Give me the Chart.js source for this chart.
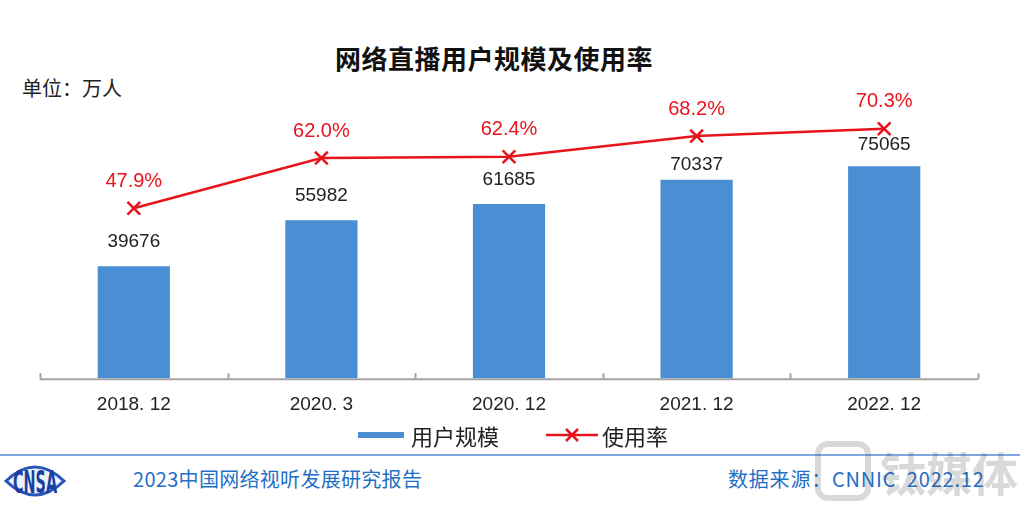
<!DOCTYPE html>
<html>
<head>
<meta charset="utf-8">
<script src="https://cdn.jsdelivr.net/npm/chart.js"></script>
<style>
  body { margin: 0; background: #fff; }
  #wrap { position: relative; width: 1034px; height: 512px; overflow: hidden; font-family: "Noto Sans CJK SC", sans-serif; }
  #box { position: absolute; left: 0; top: 0; width: 1034px; height: 512px; }
  .abs { position: absolute; white-space: nowrap; line-height: 1; }
  #title { left: 0; width: 988px; top: 45px; text-align: center; font-size: 26px; font-weight: bold; color: #111; letter-spacing: 0.5px; }
  #unit { left: 22px; top: 78px; font-size: 20px; color: #222; }
  #legend { left: 358px; top: 424px; font-size: 22px; color: #222; display: flex; align-items: center; }
  #legend .sw { display: inline-block; width: 46px; height: 6px; background: #4a8fd4; margin-right: 7px; }
  #legend svg { margin-left: 47px; margin-right: 4px; }
  #rule { left: 0; top: 454px; width: 1020px; height: 2px; background: #7ea8df; }
  .foot { top: 469px; font-size: 20px; color: #1f6fc6; }
  #mark { left: 812px; top: 438px; opacity: 0.2; }
</style>
</head>
<body>
<div id="wrap">
  <div class="abs" id="title">网络直播用户规模及使用率</div>
  <div class="abs" id="unit">单位：万人</div>
  <div class="abs" id="rule"></div>
  <svg class="abs" style="left:4px;top:459px" width="62" height="44">
    <path d="M2 22 Q31 -6 60 22 Q31 50 2 22 Z" fill="#eef3fb" stroke="#2a55b8" stroke-width="3"/>
    <text x="31" y="34" text-anchor="middle" font-family="Liberation Sans Narrow, DejaVu Sans Condensed, sans-serif" font-weight="bold" font-size="32" fill="#1b3f9e" textLength="44" lengthAdjust="spacingAndGlyphs">CNSA</text>
  </svg>
  <div class="abs foot" style="left:133px; letter-spacing:0.3px">2023中国网络视听发展研究报告</div>
  <div class="abs foot" style="left:728px; letter-spacing:0.8px">数据来源：CNNIC&nbsp;&nbsp;2022.12</div>
  <div id="box"><canvas id="myChart"></canvas></div>
  <svg class="abs" id="mark" width="214" height="68">
    <rect x="6" y="6" width="50" height="54" rx="10" fill="none" stroke="#444" stroke-width="6"/>
    <text x="68" y="53" font-family="Noto Sans CJK SC" font-weight="bold" font-size="46" fill="#444">钛媒体</text>
  </svg>
  <div class="abs" id="legend">
    <span class="sw"></span><span>用户规模</span>
    <svg width="52" height="16"><line x1="0" y1="8" x2="52" y2="8" stroke="#e8141c" stroke-width="2.5"/><path d="M20 2 L32 14 M32 2 L20 14" stroke="#e8141c" stroke-width="2.5"/></svg><span>使用率</span>
  </div>
</div>
<script>
"use strict";

const periods = ["2018. 12", "2020. 3", "2020. 12", "2021. 12", "2022. 12"];
const users = [39676, 55982, 61685, 70337, 75065];
const usageRate = [47.9, 62.0, 62.4, 68.2, 70.3];

const ctx = document.getElementById("myChart");

// value labels above bars and points
const valueLabels = {
  id: "valueLabels",
  afterDatasetsDraw(chart) {
    const c = chart.ctx;
    const nudge = { 3: 9, 4: 2 };
    c.save();
    c.textAlign = "center";
    c.textBaseline = "middle";
    c.font = "19px 'Liberation Sans', Arial, sans-serif";
    c.fillStyle = "#222";
    chart.getDatasetMeta(1).data.forEach((bar, i) => {
      c.fillText(String(users[i]), bar.x, bar.y - 24 + (nudge[i] || 0));
    });
    c.font = "20px 'Liberation Sans', Arial, sans-serif";
    c.fillStyle = "#e8141c";
    chart.getDatasetMeta(0).data.forEach((pt, i) => {
      c.fillText(usageRate[i].toFixed(1) + "%", pt.x, pt.y - 27);
    });
    c.restore();
  },
};

// base line with short ticks between categories
const baseAxis = {
  id: "baseAxis",
  beforeDatasetsDraw(chart) {
    const c = chart.ctx;
    const x = chart.scales.x;
    const y = chart.chartArea.bottom + 1;
    const step = x.getPixelForValue(1) - x.getPixelForValue(0);
    const start = x.getPixelForValue(0) - step / 2;
    c.save();
    c.strokeStyle = "#a3a3a3";
    c.lineWidth = 2;
    c.beginPath();
    c.moveTo(start, y);
    c.lineTo(start + step * periods.length, y);
    for (let i = 0; i <= periods.length; i++) {
      const px = Math.round(start + step * i) + 0.5;
      c.moveTo(px, y);
      c.lineTo(px, y - 6);
    }
    c.stroke();
    c.restore();
  },
};

new Chart(ctx, {
  type: "bar",
  data: {
    labels: periods,
    datasets: [
      {
        type: "line",
        label: "使用率",
        data: usageRate,
        yAxisID: "y1",
        borderColor: "#e8141c",
        borderWidth: 2.5,
        pointStyle: "crossRot",
        pointRadius: 9,
        pointBorderWidth: 2.5,
        pointBorderColor: "#e8141c",
        pointBackgroundColor: "#e8141c",
        tension: 0,
        order: 0,
      },
      {
        label: "用户规模",
        data: users,
        yAxisID: "y",
        backgroundColor: "#4a8fd4",
        barPercentage: 0.385,
        categoryPercentage: 1,
        order: 1,
      },
    ],
  },
  options: {
    responsive: true,
    maintainAspectRatio: false,
    animation: false,
    layout: { padding: { left: 40, right: 56, top: 96, bottom: 81 } },
    plugins: {
      legend: { display: false },
      tooltip: { enabled: false },
    },
    scales: {
      x: {
        grid: { display: false, drawTicks: false },
        border: { display: false },
        ticks: {
          padding: 15,
          color: "#222",
          font: { family: "'Liberation Sans', Arial, sans-serif", size: 19 },
        },
      },
      y: { display: false, min: 0, max: 100000 },
      y1: { display: false, min: 0, max: 79.5 },
    },
  },
  plugins: [valueLabels, baseAxis],
});
</script>
</body>
</html>
